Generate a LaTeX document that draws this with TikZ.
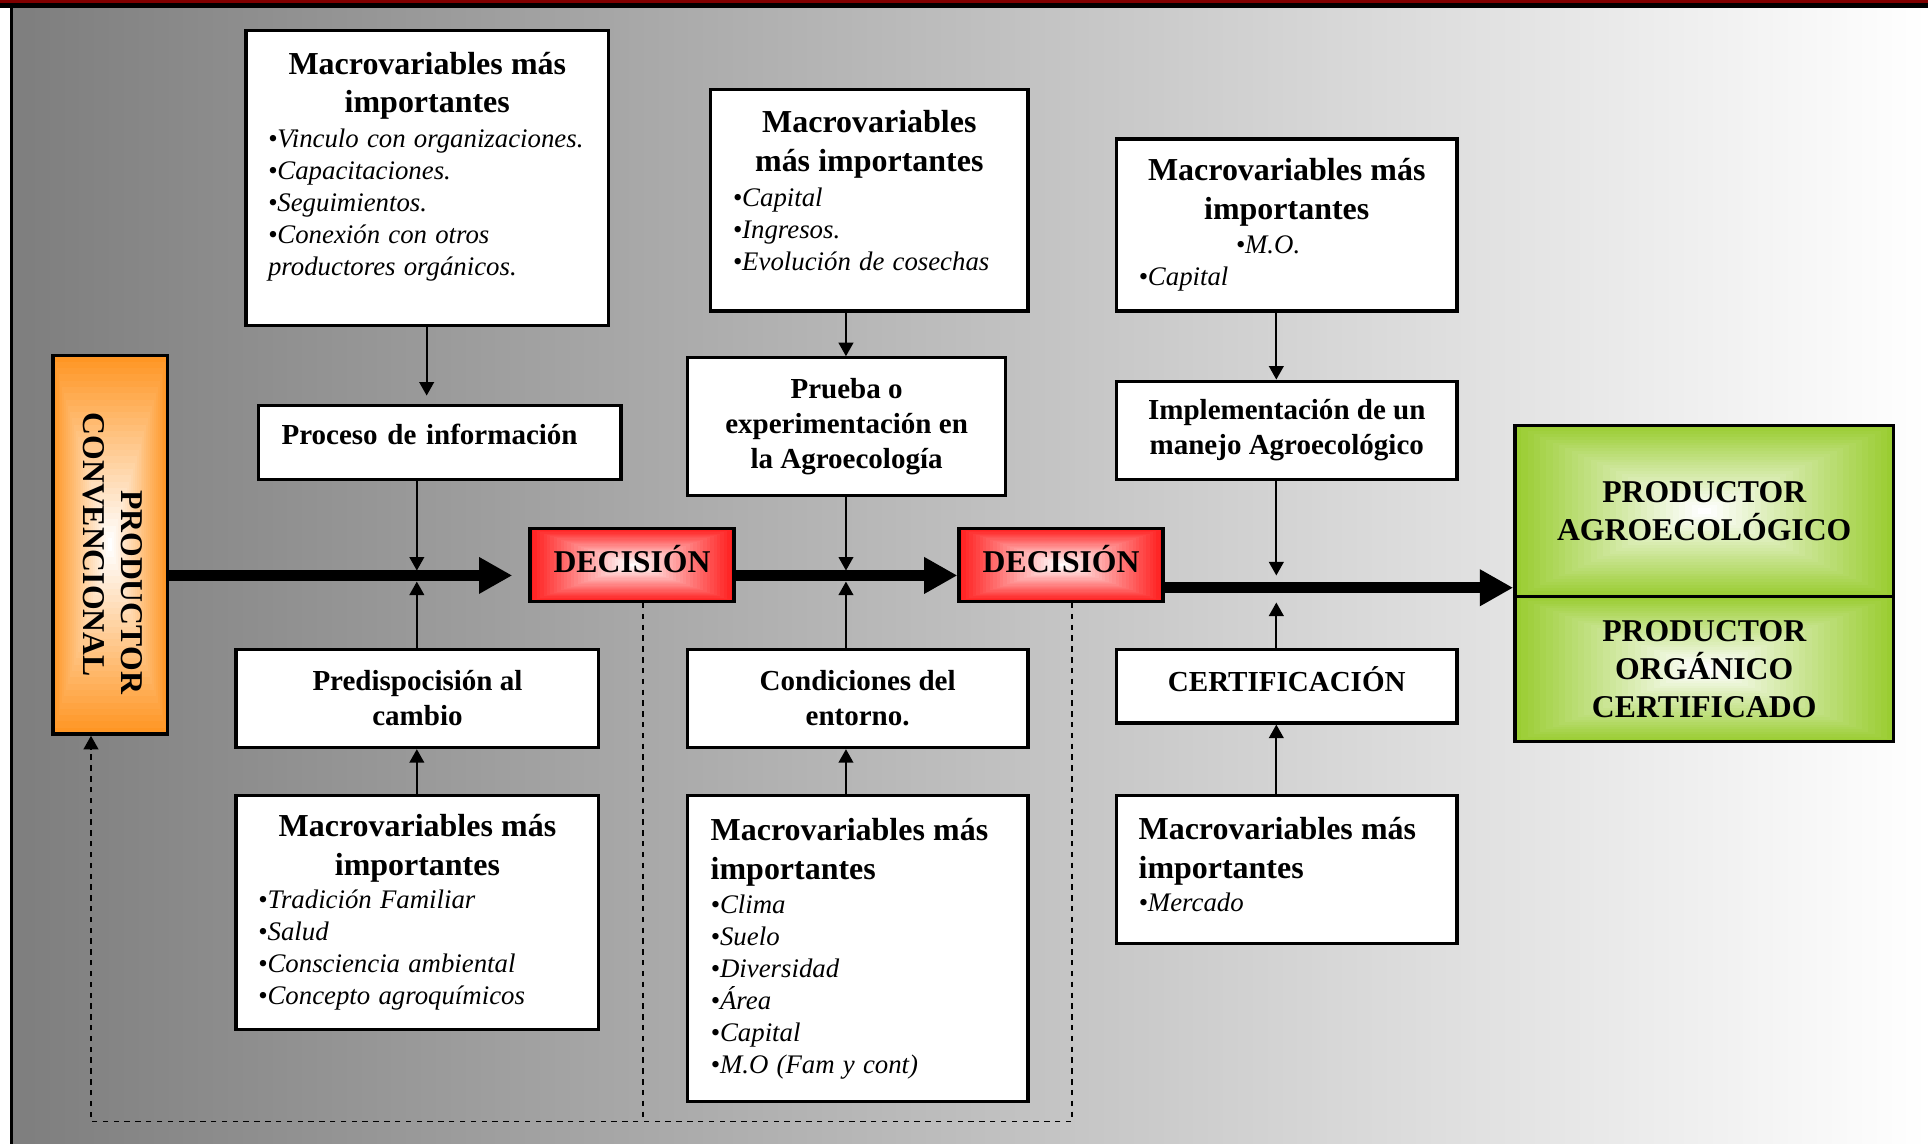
\documentclass[tikz,border=0pt]{standalone}
\usepackage{fontspec}
\setmainfont{Liberation Serif}
\usepackage{graphicx}
\usetikzlibrary{arrows.meta,calc}
\definecolor{decred}{RGB}{255,30,30}
\definecolor{orng}{RGB}{255,150,36}
\definecolor{grn}{RGB}{154,205,50}
\definecolor{bandred}{RGB}{128,0,0}
\definecolor{bggray}{RGB}{126,126,126}
\newcommand\ttlf{\fontsize{13}{15.75}\selectfont\bfseries}
\newcommand\itmf{\fontsize{10.9}{13}\selectfont\itshape}
\newcommand\midf{\fontsize{11.8}{14.3}\selectfont\bfseries}
\newcommand\capf{\fontsize{12.9}{15.5}\selectfont\bfseries}
\newcommand\bl[1]{\mbox{\textbullet\textit{#1}}}
\begin{document}
\begin{tikzpicture}[x=0.5pt,y=-0.5pt,
  box/.style={draw=black, line width=1.3pt, fill=white, rectangle, inner sep=0pt},
  mbox/.style={box, align=left},
  cbox/.style={box, align=center, font=\midf},
  glowbox/.style={draw=black, line width=1.4pt, rectangle, inner sep=0pt, fill=#1,
    align=center, font=\capf,
    path picture={
      \foreach \i in {0,...,29}{
        \pgfmathsetmacro\glt{1-\i/30}
        \pgfmathsetmacro\glp{100*\i/29}
        \fill[white!\glp!#1]
          ($(path picture bounding box.center)!\glt!(path picture bounding box.south west)$)
          rectangle
          ($(path picture bounding box.center)!\glt!(path picture bounding box.north east)$);
      }
    }},
  arr/.style={-{Triangle[length=5.5pt,width=6pt]}, line width=0.7pt},
  bigarr/.style={-{Triangle[length=13.5pt,width=14pt]}, line width=4.6pt},
  dashline/.style={dash pattern=on 2.2pt off 2.2pt, line width=0.7pt}
]
\useasboundingbox (0,0) rectangle (1568,930);
% background
\fill[white] (0,0) rectangle (1568,930);
\shade[left color=bggray, right color=white] (10,6.8) rectangle (1568,930);
\fill[bandred] (0,0) rectangle (1568,2.7);
\fill[black] (0,2.7) rectangle (1568,6.8);
\fill[black] (8,6.8) rectangle (10.5,930);

% column 1
\node[mbox, minimum width=147.5pt, minimum height=120pt, text width=129.5pt] (A) at (347.5,145)
 {{\centering\ttlf Macrovariables más\\importantes\par}\vspace{1pt}%
  {\itmf\bl{Vinculo con organizaciones.}\\\bl{Capacitaciones.}\\\bl{Seguimientos.}\\\bl{Conexión con otros}\\\mbox{\textit{productores orgánicos.}}\\[-1pt]\mbox{}\par}};
\node[mbox, font=\midf, minimum width=147.5pt, minimum height=30pt, text width=128.5pt, text depth=6.6pt] (B) at (357.5,360) {Proceso de información};
\node[cbox, minimum width=147.5pt, minimum height=40pt] (C) at (339.5,568) {Predispocisión al\\cambio};
\node[mbox, minimum width=147.5pt, minimum height=95pt, text width=129.5pt] (D) at (339.5,742)
 {{\centering\ttlf Macrovariables más\\importantes\par}\vspace{0.8pt}%
  {\itmf\bl{Tradición Familiar}\\\bl{Salud}\\\bl{Consciencia ambiental}\\\bl{Concepto agroquímicos}\par}};

% column 2
\node[mbox, minimum width=129pt, minimum height=90pt, text width=111pt] (E) at (707,163)
 {{\centering\ttlf Macrovariables\\más importantes\par}\vspace{1.2pt}%
  {\itmf\bl{Capital}\\\bl{Ingresos.}\\\bl{Evolución de cosechas}\\[-5pt]\mbox{}\par}};
\node[cbox, minimum width=129.5pt, minimum height=56pt] (F) at (688.5,347) {Prueba o\\experimentación en\\la Agroecología};
\node[cbox, minimum width=138.5pt, minimum height=40pt] (G) at (697.5,568) {Condiciones del\\entorno.};
\node[mbox, minimum width=138.5pt, minimum height=124.5pt, text width=119.5pt] (H) at (697.5,771.5)
 {{\ttlf Macrovariables más\\importantes\par}\vspace{0.8pt}%
  {\itmf\bl{Clima}\\\bl{Suelo}\\\bl{Diversidad}\\\bl{Área}\\\bl{Capital}\\\bl{M.O (Fam y cont)}\par}};

% column 3
\node[mbox, minimum width=138.5pt, minimum height=70pt, text width=120.5pt] (I) at (1046.5,183)
 {{\centering\ttlf Macrovariables más\\importantes\par}\vspace{1pt}%
  {\itmf\hspace*{39.5pt}\bl{M.O.}\\\bl{Capital}\par}};
\node[cbox, minimum width=138.5pt, minimum height=40pt] (J) at (1046.5,350) {Implementación de un\\manejo Agroecológico};
\node[cbox, minimum width=138.5pt, minimum height=30pt, text depth=6pt] (K) at (1046.5,558) {CERTIFICACIÓN};
\node[mbox, minimum width=138.5pt, minimum height=60pt, text width=120.5pt] (L) at (1046.5,707)
 {{\ttlf Macrovariables más\\importantes\par}\vspace{0.5pt}%
  {\itmf\bl{Mercado}\\[-9pt]\mbox{}\par}};

% coloured boxes
\node[glowbox=orng, minimum width=46.5pt, minimum height=154pt] (M) at (89.5,443)
 {\rotatebox{-90}{\begin{tabular}{@{}c@{}}\hspace*{38.5pt}PRODUCTOR\\CONVENCIONAL\end{tabular}}};
\node[glowbox=decred, minimum width=83pt, minimum height=29.5pt, text depth=5pt] (N) at (514,459.5) {DECISIÓN};
\node[glowbox=decred, minimum width=83pt, minimum height=29.5pt, text depth=5pt] (O) at (863,459.5) {DECISIÓN};
\node[glowbox=grn, minimum width=154pt, minimum height=69.5pt] (P1) at (1386,415.5) {PRODUCTOR\\AGROECOLÓGICO};
\node[glowbox=grn, minimum width=154pt, minimum height=59pt] (P2) at (1386,544) {PRODUCTOR\\ORGÁNICO\\CERTIFICADO};

% main thick arrows
\coordinate (t1) at ($(M.east)+(0,25)$);
\coordinate (t2) at ($(N.east)+(0,8.5)$);
\coordinate (t3) at ($(O.east)+(0,18.5)$);
\draw[bigarr] (t1) -- ($(t1 -| N.west)+(-13,0)$);
\draw[bigarr] (t2) -- (t2 -| O.west);
\draw[bigarr] (t3) -- (t3 -| P1.west);

% crossing points
\coordinate (x1) at (339,468.5);
\coordinate (x2) at (688,468.5);
\coordinate (x3) at (1038,478);
\coordinate (a1) at (347,0);

% column 1 arrows
\draw[arr] (A.south -| a1) -- ($(B.north -| a1)+(0,-7)$);
\draw[arr] (B.south -| x1) -- ($(x1)+(0,-4.5)$);
\draw[arr] (C.north -| x1) -- ($(x1)+(0,4.5)$);
\draw[arr] (D.north -| x1) -- (C.south -| x1);
% column 2 arrows
\draw[arr] (E.south -| x2) -- (F.north -| x2);
\draw[arr] (F.south -| x2) -- ($(x2)+(0,-4.5)$);
\draw[arr] (G.north -| x2) -- ($(x2)+(0,4.5)$);
\draw[arr] (H.north -| x2) -- (G.south -| x2);
% column 3 arrows
\draw[arr] (I.south -| x3) -- (J.north -| x3);
\draw[arr] (J.south -| x3) -- ($(x3)+(0,-10)$);
\draw[arr] (K.north -| x3) -- ($(x3)+(0,12)$);
\draw[arr] (L.north -| x3) -- (K.south -| x3);

% dashed feedback
\coordinate (dl) at (74,912);
\coordinate (n1) at ($(N.south)+(9,0)$);
\coordinate (o1) at ($(O.south)+(9,0)$);
\coordinate (m1) at ($(M.south)+(-15.5,0)$);
\draw[dashline] (n1) -- (n1 |- dl);
\draw[dashline, -{Triangle[length=5.5pt,width=6pt]}] (o1) -- (o1 |- dl) -- (dl) -- (m1);
\end{tikzpicture}
\end{document}
